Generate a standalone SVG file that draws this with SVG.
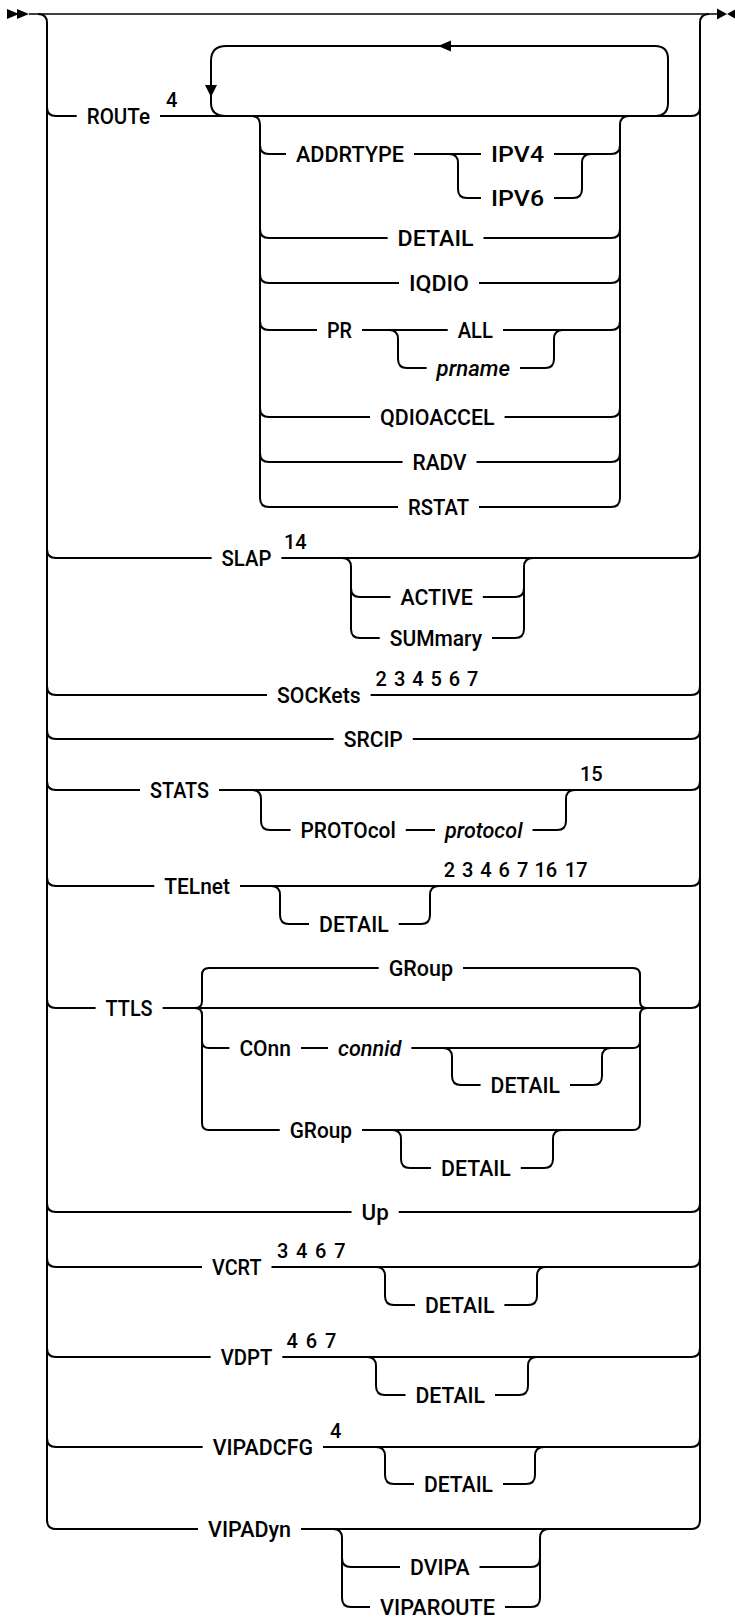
<svg xmlns="http://www.w3.org/2000/svg" width="735" height="1619" viewBox="0 0 735 1619">
<style>
.c{fill:none;stroke:#000;stroke-width:2;stroke-linecap:butt}
.m{fill:none;stroke:#000;stroke-width:1.6}
.a{fill:#000;stroke:none}
text{font-family:Roboto,"Liberation Sans",sans-serif;font-size:21.5px;font-weight:500;fill:#000}
.i{font-style:italic}
.s{font-size:20px}
</style>
<rect width="735" height="1619" fill="#fff"/>
<g id="connectors">
<path class="a" d="M7,9 L19,14 L7,19 Z M17,9 L29,14 L17,19 Z"/>
<path class="a" d="M717,8.5 L727,14 L717,19.5 Z M737,8.5 L727,14 L737,19.5 Z"/>
<path class="m" d="M29,14 H717"/>
<path class="c" d="M38,14 Q47,14 47,23 V1520 Q47,1529 56,1529"/>
<path class="c" d="M709,14 Q700,14 700,23 V1520 Q700,1529 691,1529"/>
<path class="c" d="M47,107 Q47,116 56,116 M47,549 Q47,558 56,558 M47,686 Q47,695 56,695 M47,730 Q47,739 56,739 M47,781 Q47,790 56,790 M47,877 Q47,886 56,886 M47,999 Q47,1008 56,1008 M47,1203 Q47,1212 56,1212 M47,1258 Q47,1267 56,1267 M47,1348 Q47,1357 56,1357 M47,1438 Q47,1447 56,1447"/>
<path class="c" d="M700,107 Q700,116 691,116 M700,549 Q700,558 691,558 M700,686 Q700,695 691,695 M700,730 Q700,739 691,739 M700,781 Q700,790 691,790 M700,877 Q700,886 691,886 M700,999 Q700,1008 691,1008 M700,1203 Q700,1212 691,1212 M700,1258 Q700,1267 691,1267 M700,1348 Q700,1357 691,1357 M700,1438 Q700,1447 691,1447"/>
<path class="c" d="M56,116 H76.7 M160,116 H691"/>
<path class="c" d="M226,116 Q211,116 211,103 V61 Q211,46 226,46 H655 Q668,46 668,59 V103 Q668,116 655,116"/>
<path class="a" d="M205,85 L217,85 L211,97 Z"/>
<path class="a" d="M451,40.5 L451,51.5 L438,46 Z"/>
<path class="c" d="M251,116 Q260,116 260,125 V498 Q260,507 269,507"/>
<path class="c" d="M629,116 Q620,116 620,125 V498 Q620,507 611,507"/>
<path class="c" d="M260,145 Q260,154 269,154 M260,229 Q260,238 269,238 M260,274 Q260,283 269,283 M260,321 Q260,330 269,330 M260,408 Q260,417 269,417 M260,453 Q260,462 269,462"/>
<path class="c" d="M620,145 Q620,154 611,154 M620,229 Q620,238 611,238 M620,274 Q620,283 611,283 M620,321 Q620,330 611,330 M620,408 Q620,417 611,417 M620,453 Q620,462 611,462"/>
<path class="c" d="M269,154 H286 M414,154 H481 M554,154 H611"/>
<path class="c" d="M449,154 Q458,154 458,163 V189 Q458,198 467,198 M591,154 Q582,154 582,163 V189 Q582,198 573,198 M467,198 H481 M554,198 H573"/>
<path class="c" d="M269,238 H387.6 M483.5,238 H611"/>
<path class="c" d="M269,283 H399 M479,283 H611"/>
<path class="c" d="M269,330 H317 M362,330 H447.7 M503,330 H611"/>
<path class="c" d="M389,330 Q398,330 398,339 V359 Q398,368 407,368 M563,330 Q554,330 554,339 V359 Q554,368 545,368 M407,368 H426.6 M520,368 H545"/>
<path class="c" d="M269,417 H370 M504.6,417 H611"/>
<path class="c" d="M269,462 H402.5 M476.5,462 H611"/>
<path class="c" d="M269,507 H398 M479,507 H611"/>
<path class="c" d="M56,558 H211.6 M281.4,558 H691"/>
<path class="c" d="M342,558 Q351,558 351,567 V629 Q351,638 360,638 M533,558 Q524,558 524,567 V629 Q524,638 515,638"/>
<path class="c" d="M351,588 Q351,597 360,597 M524,588 Q524,597 515,597 M360,597 H390.5 M482.8,597 H515 M360,638 H379.7 M492,638 H515"/>
<path class="c" d="M56,695 H267 M370.6,695 H691"/>
<path class="c" d="M56,739 H333.7 M412.8,739 H691"/>
<path class="c" d="M56,790 H140 M219,790 H691"/>
<path class="c" d="M252,790 Q261,790 261,799 V821 Q261,830 270,830 M575,790 Q566,790 566,799 V821 Q566,830 557,830"/>
<path class="c" d="M270,830 H290.5 M405.8,830 H435 M532.5,830 H557"/>
<path class="c" d="M56,886 H154.3 M240,886 H691"/>
<path class="c" d="M271,886 Q280,886 280,895 V915 Q280,924 289,924 M439,886 Q430,886 430,895 V915 Q430,924 421,924"/>
<path class="c" d="M289,924 H309 M398.7,924 H421"/>
<path class="c" d="M56,1008 H95.6 M162.6,1008 H691"/>
<path class="c" d="M195,1008 Q202,1008 202,1001 V975 Q202,968 209,968 M195,1008 Q202,1008 202,1015 V1123 Q202,1130 209,1130 M202,1041 Q202,1048 209,1048"/>
<path class="c" d="M647,1008 Q640,1008 640,1001 V975 Q640,968 633,968 M647,1008 Q640,1008 640,1015 V1123 Q640,1130 633,1130 M640,1041 Q640,1048 633,1048"/>
<path class="c" d="M209,968 H378.7 M463,968 H633"/>
<path class="c" d="M209,1048 H229.4 M301,1048 H328 M411.4,1048 H633"/>
<path class="c" d="M443,1048 Q452,1048 452,1057 V1076 Q452,1085 461,1085 M611,1048 Q602,1048 602,1057 V1076 Q602,1085 593,1085 M461,1085 H480.6 M570,1085 H593"/>
<path class="c" d="M209,1130 H279.7 M362,1130 H633"/>
<path class="c" d="M392,1130 Q401,1130 401,1139 V1159 Q401,1168 410,1168 M562,1130 Q553,1130 553,1139 V1159 Q553,1168 544,1168 M410,1168 H431 M520.8,1168 H544"/>
<path class="c" d="M56,1212 H351.5 M398.7,1212 H691"/>
<path class="c" d="M56,1267 H202 M271.5,1267 H691"/>
<path class="c" d="M376,1267 Q385,1267 385,1276 V1296 Q385,1305 394,1305 M546,1267 Q537,1267 537,1276 V1296 Q537,1305 528,1305 M394,1305 H415 M504.4,1305 H528"/>
<path class="c" d="M56,1357 H210.7 M282.3,1357 H691"/>
<path class="c" d="M367,1357 Q376,1357 376,1366 V1386 Q376,1395 385,1395 M537,1357 Q528,1357 528,1366 V1386 Q528,1395 519,1395 M385,1395 H405.5 M495,1395 H519"/>
<path class="c" d="M56,1447 H202.7 M323,1447 H691"/>
<path class="c" d="M376,1447 Q385,1447 385,1456 V1475 Q385,1484 394,1484 M544,1447 Q535,1447 535,1456 V1475 Q535,1484 526,1484 M394,1484 H414 M503,1484 H526"/>
<path class="c" d="M56,1529 H198 M301,1529 H691"/>
<path class="c" d="M333,1529 Q342,1529 342,1538 V1598 Q342,1607 351,1607 M549,1529 Q540,1529 540,1538 V1598 Q540,1607 531,1607"/>
<path class="c" d="M342,1558 Q342,1567 351,1567 M540,1558 Q540,1567 531,1567 M351,1567 H400 M479.5,1567 H531 M351,1607 H370 M505,1607 H531"/>
</g>
<g id="n-route"><text x="86.7" y="123.5" textLength="63.3" lengthAdjust="spacingAndGlyphs">ROUTe</text><text class="s" x="166" y="107">4</text></g>
<g id="n-addrtype"><text x="296" y="161.5" textLength="108" lengthAdjust="spacingAndGlyphs">ADDRTYPE</text></g>
<g id="n-ipv4"><text x="491" y="161.5" textLength="53" lengthAdjust="spacingAndGlyphs">IPV4</text></g>
<g id="n-ipv6"><text x="491" y="205.5" textLength="53" lengthAdjust="spacingAndGlyphs">IPV6</text></g>
<g id="n-detail-route"><text x="397.6" y="245.5" textLength="76" lengthAdjust="spacingAndGlyphs">DETAIL</text></g>
<g id="n-iqdio"><text x="409" y="290.5" textLength="60" lengthAdjust="spacingAndGlyphs">IQDIO</text></g>
<g id="n-pr"><text x="327" y="337.5" textLength="25" lengthAdjust="spacingAndGlyphs">PR</text></g>
<g id="n-all"><text x="457.7" y="337.5" textLength="35.3" lengthAdjust="spacingAndGlyphs">ALL</text></g>
<g id="n-prname"><text class="i" x="436.6" y="375.5" textLength="73.4" lengthAdjust="spacingAndGlyphs">prname</text></g>
<g id="n-qdioaccel"><text x="380" y="424.5" textLength="114.6" lengthAdjust="spacingAndGlyphs">QDIOACCEL</text></g>
<g id="n-radv"><text x="412.5" y="469.5" textLength="54" lengthAdjust="spacingAndGlyphs">RADV</text></g>
<g id="n-rstat"><text x="408" y="514.5" textLength="61" lengthAdjust="spacingAndGlyphs">RSTAT</text></g>
<g id="n-slap"><text x="221.6" y="565.5" textLength="49.8" lengthAdjust="spacingAndGlyphs">SLAP</text><text class="s" x="284" y="549">14</text></g>
<g id="n-active"><text x="400.5" y="604.5" textLength="72.3" lengthAdjust="spacingAndGlyphs">ACTIVE</text></g>
<g id="n-summary"><text x="389.7" y="645.5" textLength="92.3" lengthAdjust="spacingAndGlyphs">SUMmary</text></g>
<g id="n-sockets"><text x="277" y="702.5" textLength="83.6" lengthAdjust="spacingAndGlyphs">SOCKets</text><text class="s" y="686"><tspan x="375.6">2</tspan><tspan x="393.9">3</tspan><tspan x="412.2">4</tspan><tspan x="430.5">5</tspan><tspan x="448.8">6</tspan><tspan x="467.1">7</tspan></text></g>
<g id="n-srcip"><text x="343.7" y="746.5" textLength="59.1" lengthAdjust="spacingAndGlyphs">SRCIP</text></g>
<g id="n-stats"><text x="150" y="797.5" textLength="59" lengthAdjust="spacingAndGlyphs">STATS</text><text class="s" x="580" y="781">15</text></g>
<g id="n-protocol-kw"><text x="300.5" y="837.5" textLength="95.3" lengthAdjust="spacingAndGlyphs">PROTOcol</text></g>
<g id="n-protocol"><text class="i" x="445" y="837.5" textLength="77.5" lengthAdjust="spacingAndGlyphs">protocol</text></g>
<g id="n-telnet"><text x="164.3" y="893.5" textLength="65.7" lengthAdjust="spacingAndGlyphs">TELnet</text><text class="s" y="877"><tspan x="443.7">2</tspan><tspan x="462">3</tspan><tspan x="480.3">4</tspan><tspan x="498.6">6</tspan><tspan x="516.9">7</tspan><tspan x="534.5">16</tspan><tspan x="564.8">17</tspan></text></g>
<g id="n-detail-telnet"><text x="319" y="931.5" textLength="69.7" lengthAdjust="spacingAndGlyphs">DETAIL</text></g>
<g id="n-ttls"><text x="105.6" y="1015.5" textLength="47" lengthAdjust="spacingAndGlyphs">TTLS</text></g>
<g id="n-group1"><text x="388.7" y="975.5" textLength="64.3" lengthAdjust="spacingAndGlyphs">GRoup</text></g>
<g id="n-conn"><text x="239.4" y="1055.5" textLength="51.6" lengthAdjust="spacingAndGlyphs">COnn</text></g>
<g id="n-connid"><text class="i" x="338" y="1055.5" textLength="63.4" lengthAdjust="spacingAndGlyphs">connid</text></g>
<g id="n-detail-conn"><text x="490.6" y="1092.5" textLength="69.4" lengthAdjust="spacingAndGlyphs">DETAIL</text></g>
<g id="n-group2"><text x="289.7" y="1137.5" textLength="62.3" lengthAdjust="spacingAndGlyphs">GRoup</text></g>
<g id="n-detail-group"><text x="441" y="1175.5" textLength="69.8" lengthAdjust="spacingAndGlyphs">DETAIL</text></g>
<g id="n-up"><text x="361.5" y="1219.5" textLength="27.2" lengthAdjust="spacingAndGlyphs">Up</text></g>
<g id="n-vcrt"><text x="212" y="1274.5" textLength="49.5" lengthAdjust="spacingAndGlyphs">VCRT</text><text class="s" y="1258"><tspan x="277">3</tspan><tspan x="296">4</tspan><tspan x="315">6</tspan><tspan x="334.3">7</tspan></text></g>
<g id="n-detail-vcrt"><text x="425" y="1312.5" textLength="69.4" lengthAdjust="spacingAndGlyphs">DETAIL</text></g>
<g id="n-vdpt"><text x="220.7" y="1364.5" textLength="51.6" lengthAdjust="spacingAndGlyphs">VDPT</text><text class="s" y="1348"><tspan x="286.4">4</tspan><tspan x="305.7">6</tspan><tspan x="325">7</tspan></text></g>
<g id="n-detail-vdpt"><text x="415.5" y="1402.5" textLength="69.5" lengthAdjust="spacingAndGlyphs">DETAIL</text></g>
<g id="n-vipadcfg"><text x="212.7" y="1454.5" textLength="100.3" lengthAdjust="spacingAndGlyphs">VIPADCFG</text><text class="s" x="330" y="1438">4</text></g>
<g id="n-detail-vipadcfg"><text x="424" y="1491.5" textLength="69" lengthAdjust="spacingAndGlyphs">DETAIL</text></g>
<g id="n-vipadyn"><text x="208" y="1536.5" textLength="83" lengthAdjust="spacingAndGlyphs">VIPADyn</text></g>
<g id="n-dvipa"><text x="410" y="1574.5" textLength="59.5" lengthAdjust="spacingAndGlyphs">DVIPA</text></g>
<g id="n-viparoute"><text x="380" y="1614.5" textLength="115" lengthAdjust="spacingAndGlyphs">VIPAROUTE</text></g>
</svg>
